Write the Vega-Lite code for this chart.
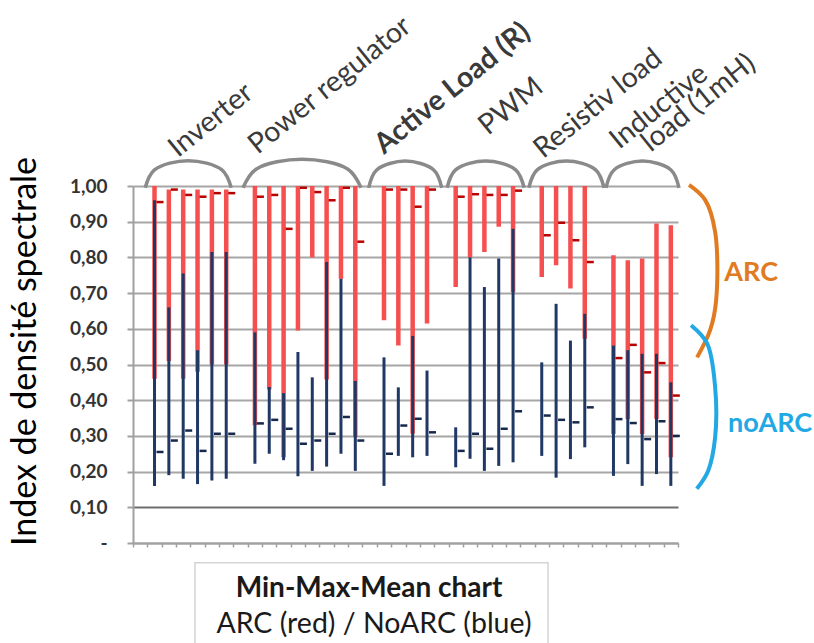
{
  "$schema": "https://vega.github.io/schema/vega-lite/v6.json",
  "width": 545,
  "height": 357,
  "autosize": {"type": "none"},
  "padding": {"left": 133, "top": 186, "right": 136, "bottom": 100},
  "background": "white",
  "config": {"view": {"stroke": null}, "font": "Lato"},
  "datasets": {
    "pairs": [
      {"group": "Inverter", "slot": 1, "aMin": 0.46, "aMax": 1.0, "aMean": 0.955, "nMin": 0.16, "nMax": 0.96, "nMean": 0.255},
      {"group": "Inverter", "slot": 2, "aMin": 0.51, "aMax": 0.99, "aMean": 0.99, "nMin": 0.19, "nMax": 0.66, "nMean": 0.287},
      {"group": "Inverter", "slot": 3, "aMin": 0.46, "aMax": 0.99, "aMean": 0.975, "nMin": 0.18, "nMax": 0.755, "nMean": 0.315},
      {"group": "Inverter", "slot": 4, "aMin": 0.48, "aMax": 0.99, "aMean": 0.97, "nMin": 0.165, "nMax": 0.54, "nMean": 0.258},
      {"group": "Inverter", "slot": 5, "aMin": 0.5, "aMax": 0.99, "aMean": 0.98, "nMin": 0.175, "nMax": 0.815, "nMean": 0.306},
      {"group": "Inverter", "slot": 6, "aMin": 0.5, "aMax": 0.99, "aMean": 0.98, "nMin": 0.18, "nMax": 0.815, "nMean": 0.306},
      {"group": "Power regulator", "slot": 8, "aMin": 0.33, "aMax": 1.0, "aMean": 0.97, "nMin": 0.222, "nMax": 0.59, "nMean": 0.335},
      {"group": "Power regulator", "slot": 9, "aMin": 0.43, "aMax": 1.0, "aMean": 0.975, "nMin": 0.25, "nMax": 0.437, "nMean": 0.345},
      {"group": "Power regulator", "slot": 10, "aMin": 0.24, "aMax": 1.0, "aMean": 0.88, "nMin": 0.232, "nMax": 0.42, "nMean": 0.32},
      {"group": "Power regulator", "slot": 11, "aMin": 0.595, "aMax": 1.0, "aMean": 0.995, "nMin": 0.187, "nMax": 0.535, "nMean": 0.278},
      {"group": "Power regulator", "slot": 12, "aMin": 0.8, "aMax": 1.0, "aMean": 0.983, "nMin": 0.202, "nMax": 0.464, "nMean": 0.287},
      {"group": "Power regulator", "slot": 13, "aMin": 0.458, "aMax": 1.0, "aMean": 0.96, "nMin": 0.214, "nMax": 0.787, "nMean": 0.306},
      {"group": "Power regulator", "slot": 14, "aMin": 0.74, "aMax": 1.0, "aMean": 0.995, "nMin": 0.25, "nMax": 0.74, "nMean": 0.353},
      {"group": "Power regulator", "slot": 15, "aMin": 0.296, "aMax": 1.0, "aMean": 0.844, "nMin": 0.202, "nMax": 0.454, "nMean": 0.287},
      {"group": "Active Load (R)", "slot": 17, "aMin": 0.624, "aMax": 1.0, "aMean": 0.99, "nMin": 0.16, "nMax": 0.52, "nMean": 0.25},
      {"group": "Active Load (R)", "slot": 18, "aMin": 0.553, "aMax": 1.0, "aMean": 0.99, "nMin": 0.244, "nMax": 0.436, "nMean": 0.329},
      {"group": "Active Load (R)", "slot": 19, "aMin": 0.306, "aMax": 1.0, "aMean": 0.942, "nMin": 0.24, "nMax": 0.58, "nMean": 0.348},
      {"group": "Active Load (R)", "slot": 20, "aMin": 0.615, "aMax": 1.0, "aMean": 0.99, "nMin": 0.244, "nMax": 0.483, "nMean": 0.31},
      {"group": "PWM", "slot": 22, "aMin": 0.717, "aMax": 1.0, "aMean": 0.97, "nMin": 0.212, "nMax": 0.324, "nMean": 0.258},
      {"group": "PWM", "slot": 23, "aMin": 0.8, "aMax": 1.0, "aMean": 0.977, "nMin": 0.236, "nMax": 0.8, "nMean": 0.306},
      {"group": "PWM", "slot": 24, "aMin": 0.815, "aMax": 1.0, "aMean": 0.975, "nMin": 0.202, "nMax": 0.717, "nMean": 0.264},
      {"group": "PWM", "slot": 25, "aMin": 0.886, "aMax": 1.0, "aMean": 0.975, "nMin": 0.216, "nMax": 0.797, "nMean": 0.32},
      {"group": "PWM", "slot": 26, "aMin": 0.703, "aMax": 1.0, "aMean": 0.987, "nMin": 0.226, "nMax": 0.88, "nMean": 0.369},
      {"group": "Resistiv load", "slot": 28, "aMin": 0.745, "aMax": 1.0, "aMean": 0.862, "nMin": 0.244, "nMax": 0.506, "nMean": 0.357},
      {"group": "Resistiv load", "slot": 29, "aMin": 0.778, "aMax": 1.0, "aMean": 0.897, "nMin": 0.183, "nMax": 0.67, "nMean": 0.345},
      {"group": "Resistiv load", "slot": 30, "aMin": 0.713, "aMax": 1.0, "aMean": 0.848, "nMin": 0.235, "nMax": 0.567, "nMean": 0.338},
      {"group": "Resistiv load", "slot": 31, "aMin": 0.572, "aMax": 1.0, "aMean": 0.787, "nMin": 0.268, "nMax": 0.642, "nMean": 0.38},
      {"group": "Inductive load (1mH)", "slot": 33, "aMin": 0.305, "aMax": 0.806, "aMean": 0.518, "nMin": 0.188, "nMax": 0.553, "nMean": 0.347},
      {"group": "Inductive load (1mH)", "slot": 34, "aMin": 0.347, "aMax": 0.792, "aMean": 0.555, "nMin": 0.221, "nMax": 0.54, "nMean": 0.336},
      {"group": "Inductive load (1mH)", "slot": 35, "aMin": 0.305, "aMax": 0.797, "aMean": 0.478, "nMin": 0.16, "nMax": 0.53, "nMean": 0.291},
      {"group": "Inductive load (1mH)", "slot": 36, "aMin": 0.347, "aMax": 0.895, "aMean": 0.504, "nMin": 0.193, "nMax": 0.53, "nMean": 0.341},
      {"group": "Inductive load (1mH)", "slot": 37, "aMin": 0.24, "aMax": 0.89, "aMean": 0.413, "nMin": 0.16, "nMax": 0.45, "nMean": 0.3}
    ],
    "arcs": [
      {"g": "Inverter", "k": 1, "ax": 0.35, "ay": 0.995},
      {"g": "Inverter", "k": 2, "ax": 1.0, "ay": 1.045},
      {"g": "Inverter", "k": 3, "ax": 3.35, "ay": 1.071},
      {"g": "Inverter", "k": 4, "ax": 5.7, "ay": 1.045},
      {"g": "Inverter", "k": 5, "ax": 6.35, "ay": 0.995},
      {"g": "Power regulator", "k": 1, "ax": 7.17, "ay": 0.995},
      {"g": "Power regulator", "k": 2, "ax": 8.08, "ay": 1.047},
      {"g": "Power regulator", "k": 3, "ax": 11.29, "ay": 1.075},
      {"g": "Power regulator", "k": 4, "ax": 14.49, "ay": 1.047},
      {"g": "Power regulator", "k": 5, "ax": 15.4, "ay": 0.995},
      {"g": "Active Load (R)", "k": 1, "ax": 15.93, "ay": 0.995},
      {"g": "Active Load (R)", "k": 2, "ax": 16.49, "ay": 1.045},
      {"g": "Active Load (R)", "k": 3, "ax": 18.48, "ay": 1.07},
      {"g": "Active Load (R)", "k": 4, "ax": 20.47, "ay": 1.045},
      {"g": "Active Load (R)", "k": 5, "ax": 21.03, "ay": 0.995},
      {"g": "PWM", "k": 1, "ax": 21.4, "ay": 0.995},
      {"g": "PWM", "k": 2, "ax": 21.99, "ay": 1.045},
      {"g": "PWM", "k": 3, "ax": 24.09, "ay": 1.07},
      {"g": "PWM", "k": 4, "ax": 26.18, "ay": 1.045},
      {"g": "PWM", "k": 5, "ax": 26.77, "ay": 0.995},
      {"g": "Resistiv load", "k": 1, "ax": 27.1, "ay": 0.995},
      {"g": "Resistiv load", "k": 2, "ax": 27.68, "ay": 1.045},
      {"g": "Resistiv load", "k": 3, "ax": 29.72, "ay": 1.07},
      {"g": "Resistiv load", "k": 4, "ax": 31.76, "ay": 1.045},
      {"g": "Resistiv load", "k": 5, "ax": 32.34, "ay": 0.995},
      {"g": "Inductive", "k": 1, "ax": 32.48, "ay": 0.995},
      {"g": "Inductive", "k": 2, "ax": 33.04, "ay": 1.045},
      {"g": "Inductive", "k": 3, "ax": 35.03, "ay": 1.07},
      {"g": "Inductive", "k": 4, "ax": 37.01, "ay": 1.045},
      {"g": "Inductive", "k": 5, "ax": 37.57, "ay": 0.995}
    ],
    "groupLabels": [
      {"label": "Inverter", "lx": 2.64, "ly": 1.078, "strong": "no"},
      {"label": "Power regulator", "lx": 8.2, "ly": 1.087, "strong": "no"},
      {"label": "Active Load (R)", "lx": 17.0, "ly": 1.087, "strong": "yes"},
      {"label": "PWM", "lx": 24.25, "ly": 1.14, "strong": "no"},
      {"label": "Resistiv load", "lx": 28.1, "ly": 1.075, "strong": "no"},
      {"label": "Inductive", "lx": 33.4, "ly": 1.101, "strong": "no"},
      {"label": "load (1mH)", "lx": 35.6, "ly": 1.093, "strong": "no"}
    ],
    "braces": [
      {"b": "ARC", "k": 1, "bx": 38.27, "by": 1.003},
      {"b": "ARC", "k": 2, "bx": 39.39, "by": 0.961},
      {"b": "ARC", "k": 3, "bx": 40.09, "by": 0.871},
      {"b": "ARC", "k": 4, "bx": 40.16, "by": 0.68},
      {"b": "ARC", "k": 5, "bx": 39.74, "by": 0.596},
      {"b": "ARC", "k": 6, "bx": 38.83, "by": 0.52},
      {"b": "noARC", "k": 1, "bx": 38.41, "by": 0.61},
      {"b": "noARC", "k": 2, "bx": 39.53, "by": 0.559},
      {"b": "noARC", "k": 3, "bx": 40.09, "by": 0.436},
      {"b": "noARC", "k": 4, "bx": 40.09, "by": 0.296},
      {"b": "noARC", "k": 5, "bx": 39.6, "by": 0.202},
      {"b": "noARC", "k": 6, "bx": 38.81, "by": 0.152}
    ],
    "braceText": [
      {"b": "ARC", "tx": 42.6, "ty": 0.756},
      {"b": "noARC", "tx": 43.92, "ty": 0.334}
    ],
    "legendBox": [
      {"x1": 3.82, "x2": 28.44, "y1": -0.055, "y2": -0.4}
    ],
    "legendText": [
      {"line": "Min-Max-Mean chart", "tx": 15.96, "ty": -0.128, "strong": "yes"},
      {"line": "ARC (red) / NoARC (blue)", "tx": 16.3, "ty": -0.226, "strong": "no"}
    ]
  },
  "layer": [
    {
      "data": {"name": "pairs"},
      "mark": {"type": "rule", "color": "#f5504f", "strokeWidth": 4.5, "strokeCap": "butt"},
      "encoding": {
        "x": {
          "field": "slot", "type": "quantitative",
          "scale": {"domain": [-0.5, 37.5], "nice": false, "zero": false},
          "axis": {
            "values": [-0.5, 0.5, 1.5, 2.5, 3.5, 4.5, 5.5, 6.5, 7.5, 8.5, 9.5, 10.5, 11.5, 12.5, 13.5, 14.5, 15.5, 16.5, 17.5, 18.5, 19.5, 20.5, 21.5, 22.5, 23.5, 24.5, 25.5, 26.5, 27.5, 28.5, 29.5, 30.5, 31.5, 32.5, 33.5, 34.5, 35.5, 36.5, 37.5],
            "tickCount": 200,
            "labels": false, "ticks": true, "tickSize": 4, "tickColor": "#a0a0a0", "tickWidth": 1.5,
            "domain": true, "domainColor": "#a0a0a0", "domainWidth": 2, "grid": false, "title": null
          }
        },
        "y": {
          "field": "aMin", "type": "quantitative",
          "scale": {"domain": [0, 1], "nice": false, "zero": false},
          "axis": {
            "values": [0, 0.1, 0.2, 0.3, 0.4, 0.5, 0.6, 0.7, 0.8, 0.9, 1.0],
            "tickCount": 100,
            "labelOverlap": false,
            "labelExpr": "datum.value == 0 ? '-' : replace(format(datum.value, '.2f'), '.', ',')",
            "labelFont": "Lato", "labelFontSize": 19, "labelFontWeight": "bold", "labelColor": "#333333", "labelPadding": 20,
            "tickSize": 6, "tickColor": "#a0a0a0", "tickWidth": 2,
            "domainColor": "#a0a0a0", "domainWidth": 2,
            "grid": true, "gridWidth": 2,
            "gridColor": {"condition": {"test": "datum.value == 0.1", "value": "#6e6e6e"}, "value": "#a6a6a6"},
            "title": "Index de densité spectrale", "titleFont": "Lato", "titleFontSize": 34, "titleFontWeight": "normal", "titleColor": "#000000", "titlePadding": 27, "titleY": 165
          }
        },
        "y2": {"field": "aMax"}
      }
    },
    {
      "data": {"name": "pairs"},
      "mark": {"type": "rule", "color": "#203864", "strokeWidth": 3, "strokeCap": "butt"},
      "encoding": {
        "x": {"field": "slot", "type": "quantitative"},
        "y": {"field": "nMin", "type": "quantitative"},
        "y2": {"field": "nMax"}
      }
    },
    {
      "data": {"name": "pairs"},
      "mark": {"type": "rule", "color": "#b80000", "strokeWidth": 2.5, "xOffset": 2, "x2Offset": 9},
      "encoding": {
        "x": {"field": "slot", "type": "quantitative"},
        "x2": {"field": "slot"},
        "y": {"field": "aMean", "type": "quantitative"}
      }
    },
    {
      "data": {"name": "pairs"},
      "mark": {"type": "rule", "color": "#17284d", "strokeWidth": 2.5, "xOffset": 2, "x2Offset": 9},
      "encoding": {
        "x": {"field": "slot", "type": "quantitative"},
        "x2": {"field": "slot"},
        "y": {"field": "nMean", "type": "quantitative"}
      }
    },
    {
      "data": {"name": "arcs"},
      "mark": {"type": "line", "color": "#8a8a8a", "strokeWidth": 3.5, "interpolate": "catmull-rom"},
      "encoding": {
        "x": {"field": "ax", "type": "quantitative"},
        "y": {"field": "ay", "type": "quantitative"},
        "detail": {"field": "g"},
        "order": {"field": "k"}
      }
    },
    {
      "data": {"name": "groupLabels"},
      "transform": [{"filter": "datum.strong === 'no'"}],
      "mark": {"type": "text", "align": "left", "baseline": "alphabetic", "angle": -39, "font": "Lato", "fontSize": 28.5, "fontWeight": "normal", "color": "#3a3a3a"},
      "encoding": {
        "x": {"field": "lx", "type": "quantitative"},
        "y": {"field": "ly", "type": "quantitative"},
        "text": {"field": "label"}
      }
    },
    {
      "data": {"name": "groupLabels"},
      "transform": [{"filter": "datum.strong === 'yes'"}],
      "mark": {"type": "text", "align": "left", "baseline": "alphabetic", "angle": -39, "font": "Lato", "fontSize": 28.5, "fontWeight": "bold", "color": "#3a3a3a"},
      "encoding": {
        "x": {"field": "lx", "type": "quantitative"},
        "y": {"field": "ly", "type": "quantitative"},
        "text": {"field": "label"}
      }
    },
    {
      "data": {"name": "braces"},
      "mark": {"type": "line", "strokeWidth": 4, "interpolate": "catmull-rom"},
      "encoding": {
        "x": {"field": "bx", "type": "quantitative"},
        "y": {"field": "by", "type": "quantitative"},
        "color": {"field": "b", "type": "nominal", "scale": {"domain": ["ARC", "noARC"], "range": ["#e07b22", "#22a8e2"]}, "legend": null},
        "order": {"field": "k"}
      }
    },
    {
      "data": {"name": "braceText"},
      "mark": {"type": "text", "align": "center", "baseline": "middle", "font": "Lato", "fontSize": 27, "fontWeight": "bold"},
      "encoding": {
        "x": {"field": "tx", "type": "quantitative"},
        "y": {"field": "ty", "type": "quantitative"},
        "text": {"field": "b"},
        "color": {"field": "b", "type": "nominal", "legend": null}
      }
    },
    {
      "data": {"name": "legendBox"},
      "mark": {"type": "rect", "fill": null, "fillOpacity": 0, "stroke": "#d4d4d4", "strokeWidth": 1.5},
      "encoding": {
        "x": {"field": "x1", "type": "quantitative"},
        "x2": {"field": "x2"},
        "y": {"field": "y1", "type": "quantitative"},
        "y2": {"field": "y2"}
      }
    },
    {
      "data": {"name": "legendText"},
      "transform": [{"filter": "datum.strong === 'yes'"}],
      "mark": {"type": "text", "align": "center", "baseline": "middle", "font": "Lato", "fontSize": 28, "fontWeight": "bold", "color": "#1a1a1a"},
      "encoding": {
        "x": {"field": "tx", "type": "quantitative"},
        "y": {"field": "ty", "type": "quantitative"},
        "text": {"field": "line"}
      }
    },
    {
      "data": {"name": "legendText"},
      "transform": [{"filter": "datum.strong === 'no'"}],
      "mark": {"type": "text", "align": "center", "baseline": "middle", "font": "Lato", "fontSize": 28.5, "fontWeight": "normal", "color": "#1a1a1a"},
      "encoding": {
        "x": {"field": "tx", "type": "quantitative"},
        "y": {"field": "ty", "type": "quantitative"},
        "text": {"field": "line"}
      }
    }
  ]
}
